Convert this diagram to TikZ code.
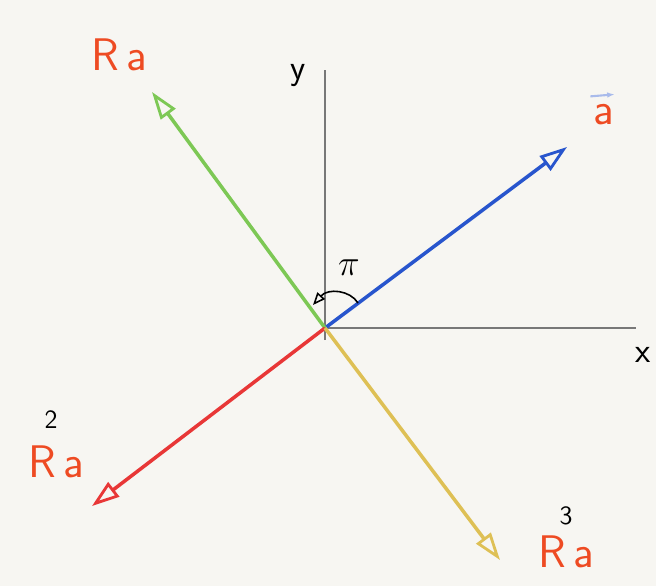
\documentclass[tikz,border=0pt]{standalone}
\usetikzlibrary{arrows.meta,calc}
\definecolor{paper}{RGB}{247,246,242}
\definecolor{vblue}{RGB}{40,85,205}
\definecolor{vgreen}{RGB}{125,200,85}
\definecolor{vred}{RGB}{232,55,55}
\definecolor{vyellow}{RGB}{222,192,85}
\definecolor{lab}{RGB}{238,75,35}
\definecolor{axisgray}{RGB}{120,120,120}
\begin{document}
\begin{tikzpicture}[x=0.02cm,y=-0.02cm,
  vec/.style={line width=2pt,-{Triangle[open,length=5.5mm,width=3.6mm,line width=1.6pt]}},
  axisline/.style={axisgray,line width=0.7pt},
  veclab/.style={lab,font=\sffamily\fontsize{26}{30}\selectfont,inner sep=0pt},
  axlab/.style={black,font=\sffamily\fontsize{20}{24}\selectfont,inner sep=0pt},
  sup/.style={black,font=\sffamily\fontsize{15}{18}\selectfont,inner sep=0pt}]
\fill[paper] (0,0) rectangle (656,586);
\useasboundingbox (0,0) rectangle (656,586);
% axes
\coordinate (O) at (325,328);
\coordinate (ytop) at (325,70);
\coordinate (ybot) at (325,340);
\coordinate (xend) at (636,328);
\draw[axisline] (ybot) -- (ytop);
\draw[axisline] (O) -- (xend);
\node[axlab] (ylab) at (298,76) {y};
\node[axlab] (xlab) at (643,355) {x};
% vectors
\coordinate (tb) at (567,147);
\coordinate (tg) at (152,92);
\coordinate (tr) at (92,506);
\coordinate (ty) at (500,560);
\draw[vec,vblue] (O) -- (tb);
\draw[vec,vgreen] (O) -- (tg);
\draw[vec,vred] (O) -- (tr);
\draw[vec,vyellow] (O) -- (ty);
% angle arc
\coordinate (arcs) at (358,303);
\coordinate (arce) at (313,305);
\draw[black,line width=0.9pt,-{Triangle[open,length=2.5mm,width=2mm,line width=0.9pt]}] (arcs) .. controls (350,290) and (328,288) .. (arce);
\node[axlab] (pi) at (349,268) {$\pi$};
% labels
\node[veclab] (la) at (119,55) {R\,a};
\node[veclab] (lb) at (604,115) {a};
\draw[vblue!40,line width=1.2pt,-{Latex[length=1.5mm]}] ($(lb.north west)+(-3,-8)$) -- ($(lb.north east)+(0,-10)$);
\node[veclab] (lr) at (56,462) {R\,a};
\node[sup] (lr2) at (51,420) {2};
\node[veclab] (ly) at (566,552) {R\,a};
\node[sup] (ly3) at (566,516) {3};
\end{tikzpicture}
\end{document}
